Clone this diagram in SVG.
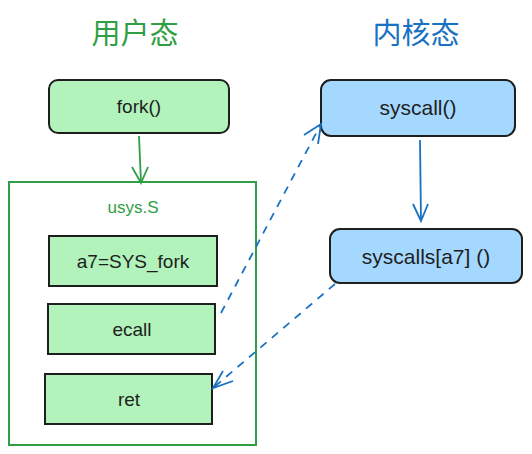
<svg xmlns="http://www.w3.org/2000/svg" width="532" height="454" viewBox="0 0 532 454">
<style>
.t{font-family:"Liberation Sans","Noto Sans CJK SC",sans-serif;text-anchor:middle;dominant-baseline:central}
.node{fill:#b2f2bb;stroke:#1e1e1e;stroke-width:2}
.knode{fill:#a5d8ff;stroke:#1e1e1e;stroke-width:2}
.lbl{font-size:19px;fill:#1e1e1e}
.g{stroke:#2f9e44;stroke-width:1.8;fill:none}
.b{stroke:#1971c2;stroke-width:1.8;fill:none}
.d{stroke-dasharray:8 7}
</style>
<rect width="532" height="454" fill="#ffffff"/>
<text class="t" x="135" y="34" font-size="29" fill="#2f9e44">用户态</text>
<text class="t" x="416" y="34" font-size="29" fill="#1971c2">内核态</text>
<g id="usys">
<rect x="9" y="182" width="247" height="263" fill="none" stroke="#2f9e44" stroke-width="2"/>
<text class="t" x="133" y="207" font-size="17" fill="#2f9e44">usys.S</text>
</g>
<g id="fork">
<rect class="node" x="49" y="80" width="180" height="53" rx="9"/>
<text class="t lbl" x="139" y="106">fork()</text>
</g>
<g id="a7">
<rect class="node" x="49" y="236" width="168" height="50"/>
<text class="t lbl" x="133" y="261">a7=SYS_fork</text>
</g>
<g id="ecall">
<rect class="node" x="48" y="304" width="167" height="50"/>
<text class="t lbl" x="132" y="329">ecall</text>
</g>
<g id="ret">
<rect class="node" x="45" y="374" width="167" height="50"/>
<text class="t lbl" x="129" y="399">ret</text>
</g>
<g id="syscall">
<rect class="knode" x="321" y="80" width="194" height="56" rx="10"/>
<text class="t" x="418" y="107" font-size="21" fill="#1e1e1e">syscall()</text>
</g>
<g id="syscalls">
<rect class="knode" x="330" y="229" width="192" height="54" rx="10"/>
<text class="t" x="426" y="256" font-size="21" fill="#1e1e1e">syscalls[a7] ()</text>
</g>
<g id="connectors">
<path class="g" d="M139 136 L141 183"/>
<path class="g" d="M132 167 L141 183 L148 167"/>
<path class="b" d="M420 140 L421 221"/>
<path class="b" d="M413 204 L421 221 L428 204"/>
<path class="b d" d="M221 313 L321 124"/>
<path class="b" d="M304 135 L321 124 L318 144"/>
<path class="b d" d="M335 284 L213 388"/>
<path class="b" d="M223 371 L213 388 L233 381"/>
</g>
</svg>
